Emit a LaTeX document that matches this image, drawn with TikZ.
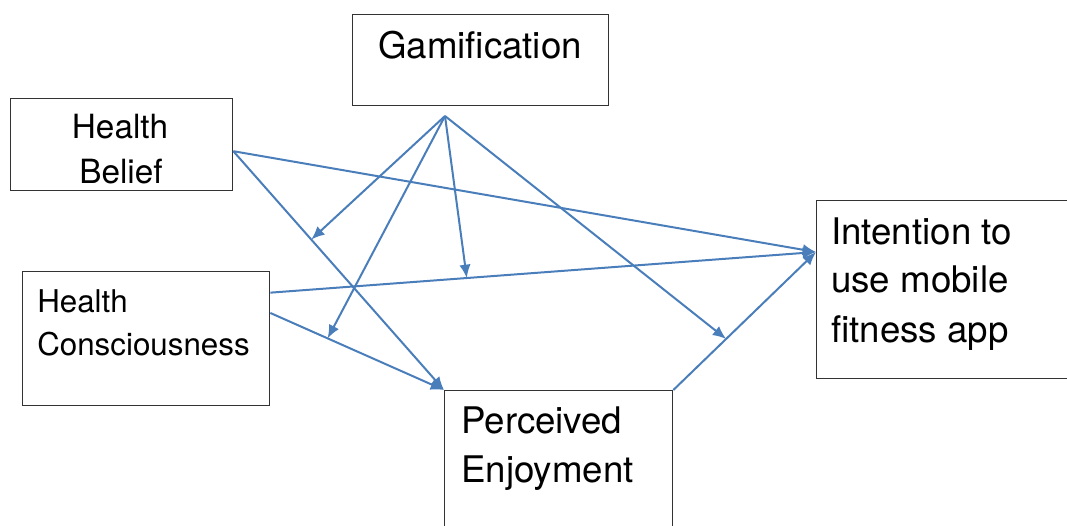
\documentclass[tikz,border=0pt]{standalone}
\usepackage{fontspec}
\setmainfont{TeX Gyre Heros}
\usepackage{color}
\usetikzlibrary{arrows.meta}
\usetikzlibrary{calc}
\definecolor{linkblue}{RGB}{74,126,187}

\begin{document}
\begin{tikzpicture}
				[x=0.75pt,y=-0.75pt,
					box/.style={rectangle,draw=black!80,line width=1pt,inner sep=0pt,anchor=north west},
					txt/.style={inner sep=0pt,anchor=base west},
					connect/.style={linkblue,line width=1.5pt,-{Latex[length=10pt,width=8.5pt]}}]
				\clip (0,0) rectangle (1067,525);
				% boxes
				\node (gam) [box,minimum width=192pt,minimum height=68.25pt] at (352,14) {};
				\node (hb) [box,minimum width=166.5pt,minimum height=69pt] at (10,98) {};
				\node (hc) [box,minimum width=185.25pt,minimum height=100.5pt] at (22,271) {};
				\node (pe) [box,minimum width=171pt,minimum height=112.5pt] at (444,390) {};
				\node (int) [box,minimum width=189pt,minimum height=133.5pt] at (816,200) {};
				% texts
				\node (gamt) [txt,anchor=base] at (480,58) {\fontsize{27.5}{33}\selectfont Gamification};
				\node (hbt1) [txt,anchor=base] at (120,138) {\fontsize{25}{30}\selectfont Health};
				\node (hbt2) [txt,anchor=base] at (121,183) {\fontsize{25}{30}\selectfont Belief};
				\node (hct1) [txt] at (37,312) {\fontsize{23.5}{28}\selectfont Health};
				\node (hct2) [txt] at (37,355) {\fontsize{23.5}{28}\selectfont Consciousness};
				\node (pet1) [txt] at (461,433) {\fontsize{27.5}{33}\selectfont Perceived};
				\node (pet2) [txt] at (461,482) {\fontsize{27.5}{33}\selectfont Enjoyment};
				\node (intt1) [txt] at (831,244) {\fontsize{27.5}{33}\selectfont Intention to};
				\node (intt2) [txt] at (831,292) {\fontsize{27.5}{33}\selectfont use mobile};
				\node (intt3) [txt] at (831,342) {\fontsize{27.5}{33}\selectfont fitness app};
				% end points
				\coordinate (gsrc) at (445,116);
				\coordinate (hbo) at ($(hb.north east)!0.57!(hb.south east)$);
				\coordinate (hco1) at ($(hc.north east)!0.16!(hc.south east)$);
				\coordinate (hco2) at ($(hc.north east)!0.31!(hc.south east)$);
				\coordinate (inti) at ($(int.north west)!0.29!(int.south west)$);
				% paths
				\draw [connect] (hbo) -- (pe.north west);
				\draw [connect] (hbo) -- (inti);
				\draw [connect] (hco1) -- (inti);
				\draw [connect] (hco2) -- (pe.north west);
				\draw [connect] (pe.north east) -- (inti);
				% moderation by gamification
				\draw [connect] (gsrc) -- ($(hbo)!0.37!(pe.north west)$);
				\draw [connect] (gsrc) -- ($(hco2)!0.33!(pe.north west)$);
				\draw [connect] (gsrc) -- ($(hco1)!0.36!(inti)$);
				\draw [connect] (gsrc) -- ($(pe.north east)!0.37!(inti)$);
			\end{tikzpicture}
\end{document}
